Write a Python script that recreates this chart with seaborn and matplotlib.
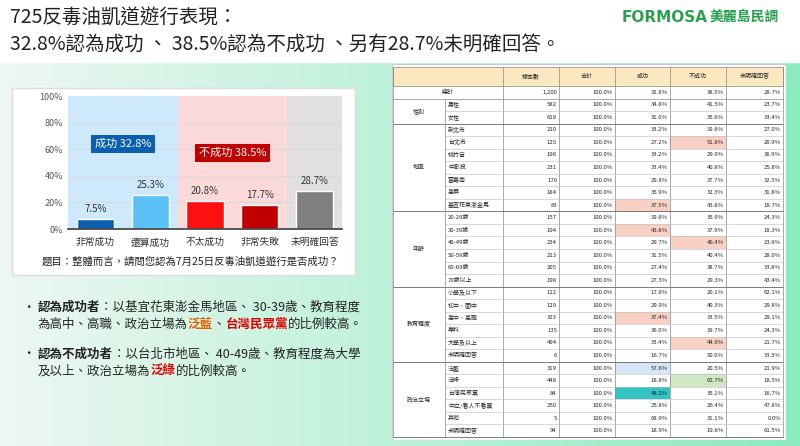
import numpy as np
import pandas as pd
import matplotlib
matplotlib.use("Agg")
import matplotlib.pyplot as plt
from matplotlib.patches import Rectangle
import seaborn as sns

sns.set_theme(style="white")
plt.rcParams['font.family'] = ['Noto Sans CJK TC', 'DejaVu Sans']

categories = ["非常成功", "還算成功", "不太成功", "非常失敗", "未明確回答"]
values = [7.5, 25.3, 20.8, 17.7, 28.7]
bar_colors = ["#0a5fb0", "#5bc0f5", "#ff1010", "#c00000", "#7f7f7f"]
band_colors = ["#cde9fb", "#cde9fb", "#fcd9d9", "#fcd9d9", "#e0e0e0"]

headers = ["樣本數", "合計", "成功", "不成功", "未明確回答"]
groups = [("性別", 2), ("地區", 7), ("年齡", 6), ("教育程度", 6), ("政治立場", 6)]
row_labels = ["男性", "女性", "新北市", "台北市", "桃竹苗", "中彰投", "雲嘉南", "高屏", "基宜花東澎金馬",
              "20-29歲", "30-39歲", "40-49歲", "50-59歲", "60-69歲", "70歲以上",
              "小學及以下", "初中、國中", "高中、高職", "專科", "大學及以上", "未明確回答",
              "泛藍", "泛綠", "台灣民眾黨", "中立/看人不看黨", "其他", "未明確回答"]
n_sample = [582, 618, 210, 125, 198, 231, 170, 184, 83, 157, 194, 234, 213, 205, 198,
            112, 129, 323, 135, 494, 6, 319, 448, 84, 250, 5, 94]
succ = [34.8, 31.0, 33.2, 27.2, 33.2, 33.4, 29.8, 35.9, 37.5, 39.8, 43.8, 29.7, 31.5, 27.4, 27.3,
        17.8, 29.9, 37.4, 36.0, 33.4, 16.7, 57.6, 18.8, 48.2, 25.8, 68.9, 18.9]
fail = [41.5, 35.6, 39.8, 51.8, 29.9, 40.8, 37.7, 32.3, 43.8, 35.9, 37.9, 46.4, 40.4, 38.7, 29.3,
        20.1, 40.3, 33.5, 39.7, 44.9, 50.0, 20.5, 62.7, 35.1, 26.4, 31.1, 19.6]
unk = [23.7, 33.4, 27.0, 20.9, 36.9, 25.8, 32.5, 31.8, 18.7, 24.3, 18.3, 23.9, 28.0, 33.8, 43.4,
       62.1, 29.8, 29.1, 24.3, 21.7, 33.3, 21.9, 18.5, 16.7, 47.8, 0.0, 61.5]
total_row = ["1,200", "100.0%", "32.8%", "38.5%", "28.7%"]
highlights = [(3, 3, "#f8d0c4"), (8, 2, "#f8d0c4"), (10, 2, "#f8d0c4"), (11, 3, "#f8d0c4"),
              (17, 2, "#f8d0c4"), (19, 3, "#f8d0c4"), (21, 2, "#d6e6f7"), (22, 3, "#cfe8c4"),
              (23, 2, "#33c3c3")]

W, H = 800, 446
fig = plt.figure(figsize=(8, 4.46), dpi=100)

bg = fig.add_axes([0, 0, 1, 1])
img = np.zeros((2, 256, 3))
c0 = np.array([0.93, 0.97, 0.95]); c1 = np.array([0.55, 0.92, 0.75])
for i, t in enumerate(np.linspace(0, 1, 256)):
    img[:, i, :] = c0 * (1 - t) + c1 * t
bg.imshow(img, aspect='auto', extent=[0, W, H, 0])
bg.add_patch(Rectangle((0, 0), W, 62, color="white"))
bg.set_xlim(0, W); bg.set_ylim(H, 0); bg.axis("off")
bg.text(10, 18, "725反毒油凱道遊行表現：", fontsize=14, va="center", color="#222")
bg.text(10, 44, "32.8%認為成功 、 38.5%認為不成功 、另有28.7%未明確回答。", fontsize=14, va="center", color="#222")
bg.text(622, 17, "FORMOSA", fontsize=11, fontweight="bold", color="#2aa050", va="center", family=["DejaVu Sans"])
bg.text(710, 17, "美麗島民調", fontsize=10, fontweight="bold", color="#2aa050", va="center")
bg.add_patch(Rectangle((12, 88), 343, 187, facecolor="white", edgecolor="#dddddd"))
bg.text(190, 262, "題目：整體而言，請問您認為7月25日反毒油凱道遊行是否成功？", fontsize=7.5, ha="center", va="center", color="#222")

renderer = fig.canvas.get_renderer()
inv = bg.transData.inverted()

def seq(x, y, parts):
    for txt, bold, col in parts:
        t = bg.text(x, y, txt, fontsize=9, va="center", color=col, fontweight="bold" if bold else "normal")
        ext = t.get_window_extent(renderer=renderer)
        x = inv.transform((ext.x1, ext.y0))[0]

bg.text(22, 307, "•", fontsize=9, va="center")
seq(38, 307, [("認為成功者", True, "#222"), ("：以基宜花東澎金馬地區、 30-39歲、教育程度", False, "#222")])
seq(38, 324, [("為高中、高職、政治立場為", False, "#222"), ("泛藍", True, "#e06000"), ("、", False, "#222"),
              ("台灣民眾黨", True, "#e00000"), ("的比例較高。", False, "#222")])
bg.text(22, 354, "•", fontsize=9, va="center")
seq(38, 354, [("認為不成功者", True, "#222"), ("：以台北市地區、 40-49歲、教育程度為大學", False, "#222")])
seq(38, 371, [("及以上、政治立場為", False, "#222"), ("泛綠", True, "#e00000"), ("的比例較高。", False, "#222")])

ax = fig.add_axes([68 / W, 1 - 229 / H, (342 - 68) / W, (229 - 96) / H])
for i, c in enumerate(band_colors):
    ax.axvspan(i - 0.5, i + 0.5, color=c, zorder=0, lw=0)
for y in [20, 40, 60, 80]:
    ax.axhline(y, color="#d8d8d8", lw=0.6, zorder=0.5)
df = pd.DataFrame({"cat": categories, "val": values})
sns.barplot(data=df, x="cat", y="val", hue="cat", palette=bar_colors, legend=False, width=0.68,
            saturation=1, ax=ax, zorder=2)
for i, v in enumerate(values):
    ax.text(i, v + 4, f"{v}%", ha="center", va="bottom", fontsize=7, color="#333")
ax.set_xlim(-0.5, 4.5); ax.set_ylim(0, 100)
ax.set_yticks([0, 20, 40, 60, 80, 100]); ax.set_yticklabels([f"{t}%" for t in range(0, 101, 20)], fontsize=6.5, color="#555")
ax.tick_params(axis="x", labelsize=7, colors="#333", length=0, pad=6)
ax.tick_params(axis="y", length=0)
ax.set_xlabel(""); ax.set_ylabel("")
for s in ["top", "right", "left"]:
    ax.spines[s].set_visible(False)
ax.spines["bottom"].set_color("#444")
ax.text(0.5, 64, "成功 32.8%", ha="center", va="center", fontsize=8, color="white",
        bbox=dict(boxstyle="square,pad=0.35", fc="#0a5fb0", ec="none"))
ax.text(2.5, 57, "不成功 38.5%", ha="center", va="center", fontsize=8, color="white",
        bbox=dict(boxstyle="square,pad=0.35", fc="#c00000", ec="none"))

tx = fig.add_axes([392 / W, 1 - 440 / H, (786 - 392) / W, (440 - 64) / H])
tx.set_xlim(392, 786); tx.set_ylim(440, 64); tx.axis("off")
tx.add_patch(Rectangle((392, 64), 394, 376, facecolor="white", edgecolor="#cccccc"))
cols = [393, 445, 503, 559, 615, 670, 726, 783]
hy0, hy1 = 67, 86
rh = (437 - hy1) / 28
fs = 4.3
tx.add_patch(Rectangle((cols[0], hy0), cols[-1] - cols[0], hy1 - hy0, facecolor="#fbe8c0", edgecolor="#888", lw=0.5))
for j, h in enumerate(headers):
    tx.text((cols[j + 2] + cols[j + 3]) / 2, (hy0 + hy1) / 2, h, ha="center", va="center", fontsize=fs)
    tx.plot([cols[j + 2]] * 2, [hy0, 437], color="#888", lw=0.5)
y = hy1
tx.text((cols[0] + cols[2]) / 2, y + rh / 2, "總計", ha="center", va="center", fontsize=fs)
for j, v in enumerate(total_row):
    tx.text(cols[j + 3] - 2, y + rh / 2, v, ha="right", va="center", fontsize=fs)
tx.plot([cols[0], cols[-1]], [y + rh] * 2, color="#888", lw=0.5)
r = 0
y0 = hy1 + rh
for gname, cnt in groups:
    gy = y0 + r * rh
    tx.text((cols[0] + cols[1]) / 2, gy + cnt * rh / 2, gname, ha="center", va="center", fontsize=fs)
    for k in range(cnt):
        yy = gy + k * rh
        for (ri, ci, colr) in highlights:
            if ri == r + k:
                tx.add_patch(Rectangle((cols[ci + 2], yy), cols[ci + 3] - cols[ci + 2], rh, facecolor=colr, lw=0))
        tx.text(cols[1] + 3, yy + rh / 2, row_labels[r + k], ha="left", va="center", fontsize=fs)
        vals = [f"{n_sample[r + k]}", "100.0%", f"{succ[r + k]:.1f}%", f"{fail[r + k]:.1f}%", f"{unk[r + k]:.1f}%"]
        for j, v in enumerate(vals):
            tx.text(cols[j + 3] - 2, yy + rh / 2, v, ha="right", va="center", fontsize=fs)
        if k > 0:
            tx.plot([cols[1], cols[-1]], [yy] * 2, color="#bbb", lw=0.4)
    r += cnt
    tx.plot([cols[0], cols[-1]], [y0 + r * rh] * 2, color="#666", lw=0.6)
for xc in [cols[0], cols[1], cols[-1]]:
    tx.plot([xc] * 2, [hy0 if xc != cols[1] else y0, 437], color="#888", lw=0.5)

fig.savefig("out.png", dpi=100)
